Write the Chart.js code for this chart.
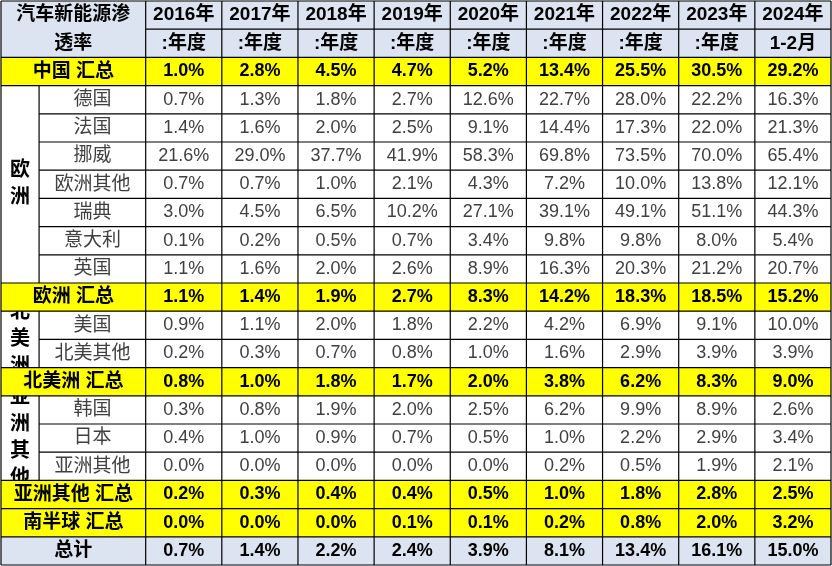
<!DOCTYPE html>
<html><head><meta charset="utf-8">
<script src="https://cdn.jsdelivr.net/npm/chart.js@4"></script>
<style>html,body{margin:0;padding:0;background:#fff}#wrap{width:832px;height:566px}</style>
</head><body><div id="wrap"><canvas id="c"></canvas></div>
<script>
const years = ["2016年", "2017年", "2018年", "2019年", "2020年", "2021年", "2022年", "2023年", "2024年"];
const yearSub = [":年度", ":年度", ":年度", ":年度", ":年度", ":年度", ":年度", ":年度", "1-2月"];
const rowLabels = ["中国 汇总", "德国", "法国", "挪威", "欧洲其他", "瑞典", "意大利", "英国", "欧洲 汇总",
  "美国", "北美其他", "北美洲 汇总", "韩国", "日本", "亚洲其他", "亚洲其他 汇总", "南半球 汇总", "总计"];
const rowKind = ["sum", "", "", "", "", "", "", "", "sum", "", "", "sum", "", "", "", "sum", "sum", "total"];
const values = [
  [1.0, 2.8, 4.5, 4.7, 5.2, 13.4, 25.5, 30.5, 29.2],
  [0.7, 1.3, 1.8, 2.7, 12.6, 22.7, 28.0, 22.2, 16.3],
  [1.4, 1.6, 2.0, 2.5, 9.1, 14.4, 17.3, 22.0, 21.3],
  [21.6, 29.0, 37.7, 41.9, 58.3, 69.8, 73.5, 70.0, 65.4],
  [0.7, 0.7, 1.0, 2.1, 4.3, 7.2, 10.0, 13.8, 12.1],
  [3.0, 4.5, 6.5, 10.2, 27.1, 39.1, 49.1, 51.1, 44.3],
  [0.1, 0.2, 0.5, 0.7, 3.4, 9.8, 9.8, 8.0, 5.4],
  [1.1, 1.6, 2.0, 2.6, 8.9, 16.3, 20.3, 21.2, 20.7],
  [1.1, 1.4, 1.9, 2.7, 8.3, 14.2, 18.3, 18.5, 15.2],
  [0.9, 1.1, 2.0, 1.8, 2.2, 4.2, 6.9, 9.1, 10.0],
  [0.2, 0.3, 0.7, 0.8, 1.0, 1.6, 2.9, 3.9, 3.9],
  [0.8, 1.0, 1.8, 1.7, 2.0, 3.8, 6.2, 8.3, 9.0],
  [0.3, 0.8, 1.9, 2.0, 2.5, 6.2, 9.9, 8.9, 2.6],
  [0.4, 1.0, 0.9, 0.7, 0.5, 1.0, 2.2, 2.9, 3.4],
  [0.0, 0.0, 0.0, 0.0, 0.0, 0.2, 0.5, 1.9, 2.1],
  [0.2, 0.3, 0.4, 0.4, 0.5, 1.0, 1.8, 2.8, 2.5],
  [0.0, 0.0, 0.0, 0.1, 0.1, 0.2, 0.8, 2.0, 3.2],
  [0.7, 1.4, 2.2, 2.4, 3.9, 8.1, 13.4, 16.1, 15.0]
];
// group labels: [first row, last row, text]
const groups = [[1, 7, "欧洲"], [9, 10, "北美洲"], [12, 14, "亚洲其他"]];

const FONT = '"Liberation Sans", "Noto Sans CJK SC", sans-serif';

const tablePlugin = {
  id: "table",
  afterDraw(chart) {
    const ctx = chart.ctx, xs = chart.scales.x, ys = chart.scales.y;
    const X = v => xs.getPixelForValue(v), Y = v => ys.getPixelForValue(v);
    const nRows = rowLabels.length;
    ctx.save();
    // header
    ctx.fillStyle = "#dce4f2";
    ctx.fillRect(X(-1.9), Y(0), X(9) - X(-1.9), Y(2) - Y(0));
    // row backgrounds
    rowKind.forEach((k, r) => {
      if (!k) return;
      ctx.fillStyle = k === "sum" ? "#ffff00" : "#dce4f2";
      ctx.fillRect(X(-1.9), Y(r + 2), X(9) - X(-1.9), Y(r + 3) - Y(r + 2));
    });
    // grid lines
    ctx.strokeStyle = "#000"; ctx.lineWidth = 1.2;
    const line = (x1, y1, x2, y2) => { ctx.beginPath(); ctx.moveTo(X(x1), Y(y1)); ctx.lineTo(X(x2), Y(y2)); ctx.stroke(); };
    line(-1.9, 0, 9, 0); line(0, 1, 9, 1); line(-1.9, 2, 9, 2);
    for (let r = 0; r < nRows; r++) {
      const inGroupNext = groups.some(g => r + 1 > g[0] && r + 1 <= g[1]);
      line(inGroupNext ? -1.4 : -1.9, r + 3, 9, r + 3);
    }
    line(-1.9, 0, -1.9, nRows + 2);
    for (let c = 0; c <= 9; c++) line(c, 0, c, nRows + 2);
    groups.forEach(g => line(-1.4, g[0] + 2, -1.4, g[1] + 3));
    // header text
    ctx.textAlign = "center"; ctx.textBaseline = "middle"; ctx.fillStyle = "#000";
    ctx.font = "bold 19px " + FONT;
    ctx.fillText("汽车新能源渗", X(-0.95), Y(0.5));
    ctx.fillText("透率", X(-0.95), Y(1.5));
    years.forEach((t, i) => {
      ctx.fillText(t, X(i + 0.5), Y(0.5));
      ctx.fillText(yearSub[i], X(i + 0.5), Y(1.5));
    });
    // rows
    rowLabels.forEach((lab, r) => {
      const bold = !!rowKind[r];
      const yc = Y(r + 2.5);
      ctx.fillStyle = bold ? "#000" : "#404040";
      ctx.font = (bold ? "bold " : "") + "19px " + FONT;
      ctx.fillText(lab, bold ? X(-0.95) : X(-0.7), yc);
      ctx.font = (bold ? "bold " : "") + "18px " + FONT;
      values[r].forEach((v, c) => ctx.fillText(v.toFixed(1) + "%", X(c + 0.5), yc));
    });
    // vertical group labels, clipped to their cell
    ctx.fillStyle = "#000"; ctx.font = "bold 20px " + FONT;
    groups.forEach(g => {
      const top = Y(g[0] + 2), bot = Y(g[1] + 3);
      ctx.save();
      ctx.beginPath(); ctx.rect(X(-1.9), top, X(-1.4) - X(-1.9), bot - top); ctx.clip();
      const chars = [...g[2]], lh = 27;
      const y0 = (top + bot) / 2 - (chars.length - 1) * lh / 2;
      chars.forEach((ch, i) => ctx.fillText(ch, (X(-1.9) + X(-1.4)) / 2, y0 + i * lh));
      ctx.restore();
    });
    ctx.restore();
  }
};

new Chart(document.getElementById("c"), {
  type: "scatter",
  data: { datasets: [{ data: [] }] },
  options: {
    responsive: true, maintainAspectRatio: false, animation: false,
    layout: { padding: { left: 1, right: 1, top: 1, bottom: 1 } },
    plugins: { legend: { display: false }, tooltip: { enabled: false } },
    scales: {
      x: { type: "linear", min: -1.9, max: 9, display: false },
      y: { type: "linear", min: 0, max: rowLabels.length + 2, reverse: true, display: false }
    }
  },
  plugins: [tablePlugin]
});
</script></body></html>
